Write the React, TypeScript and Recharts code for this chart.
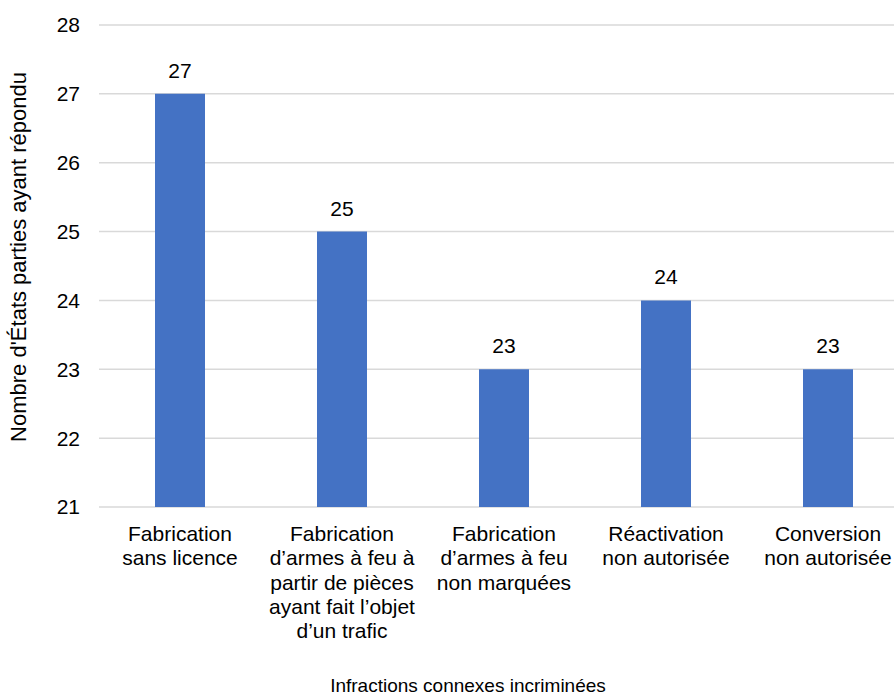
import { BarChart, Bar, XAxis, YAxis, CartesianGrid, LabelList, Label } from "recharts";

// categories and counts
const categories = [
  "Fabrication sans licence",
  "Fabrication d’armes à feu à partir de pièces ayant fait l’objet d’un trafic",
  "Fabrication d’armes à feu non marquées",
  "Réactivation non autorisée",
  "Conversion non autorisée",
];
const values = [27, 25, 23, 24, 23];

// wrapped tick labels, one array of lines per category
const tickLines = [
  ["Fabrication", "sans licence"],
  ["Fabrication", "d’armes à feu à", "partir de pièces", "ayant fait l’objet", "d’un trafic"],
  ["Fabrication", "d’armes à feu", "non marquées"],
  ["Réactivation", "non autorisée"],
  ["Conversion", "non autorisée"],
];
const yTicks = [21, 22, 23, 24, 25, 26, 27, 28];

const xTitle = "Infractions connexes incriminées";
const yTitle = "Nombre d'États parties ayant répondu";

const data = categories.map((name, i) => ({ name, value: values[i] }));

const FONT = "'Liberation Sans', Arial, sans-serif";

const CategoryTick = (props: any) => {
  const { x, y, index } = props;
  const lines = tickLines[index] || [];
  return (
    <g>
      {lines.map((line, i) => (
        <text
          key={i}
          x={x}
          y={y + 32 + i * 24.3}
          textAnchor="middle"
          fontSize={21}
          fontFamily={FONT}
          fill="#000"
        >
          {line}
        </text>
      ))}
    </g>
  );
};

export default function App() {
  return (
    <div
      style={{
        position: "absolute",
        left: 0,
        top: 0,
        width: 894,
        height: 696,
        overflow: "hidden",
        background: "#fff",
      }}
    >
      <BarChart
        width={909}
        height={696}
        data={data}
        margin={{ top: 25, right: 0, bottom: 0, left: 0 }}
        barCategoryGap={0}
      >
        <CartesianGrid vertical={false} stroke="#D9D9D9" strokeWidth={1.5} />
        <XAxis
          dataKey="name"
          axisLine={false}
          tickLine={false}
          tickSize={0}
          height={189}
          interval={0}
          tick={<CategoryTick />}
        >
          <Label
            content={(p: any) => {
              const vb = p.viewBox;
              return (
                <text
                  x={vb.x + vb.width / 2 - 36}
                  y={692}
                  textAnchor="middle"
                  fontSize={19}
                  fontFamily={FONT}
                  fill="#000"
                >
                  {xTitle}
                </text>
              );
            }}
          />
        </XAxis>
        <YAxis
          width={99}
          domain={[21, 28]}
          ticks={yTicks}
          allowDataOverflow
          axisLine={false}
          tickLine={false}
          tickSize={0}
          tickMargin={19}
          tick={{ fontSize: 21, fontFamily: FONT, fill: "#000" }}
        >
          <Label
            content={(p: any) => {
              const vb = p.viewBox;
              const cx = 18;
              const cy = vb.y + vb.height / 2 - 9;
              return (
                <text
                  x={cx}
                  y={cy}
                  transform={`rotate(-90 ${cx} ${cy})`}
                  textAnchor="middle"
                  dominantBaseline="central"
                  fontSize={22}
                  fontFamily={FONT}
                  fill="#000"
                >
                  {yTitle}
                </text>
              );
            }}
          />
        </YAxis>
        <Bar dataKey="value" fill="#4472C4" barSize={50} isAnimationActive={false}>
          <LabelList
            dataKey="value"
            position="top"
            offset={16}
            fontSize={21}
            fontFamily={FONT}
            fill="#000"
          />
        </Bar>
      </BarChart>
    </div>
  );
}
